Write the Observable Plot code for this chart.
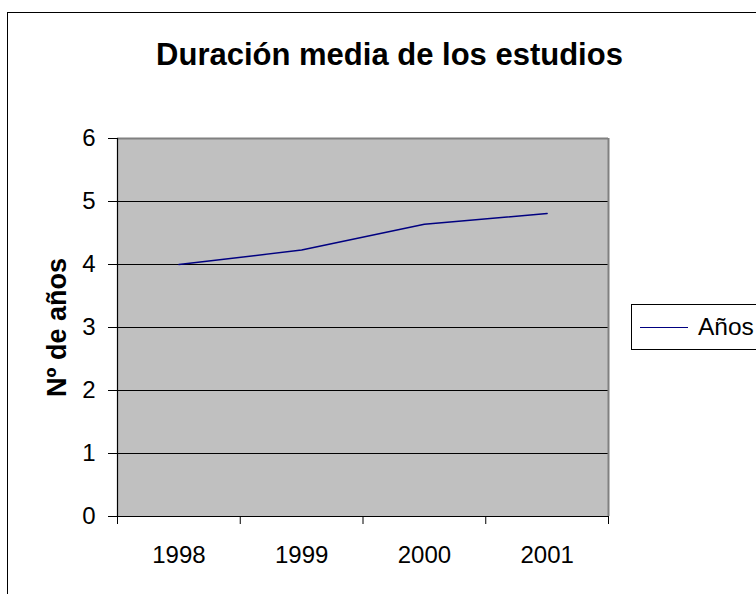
<!DOCTYPE html>
<html>
<head>
<meta charset="utf-8">
<script src="https://cdn.jsdelivr.net/npm/d3@7"></script>
<script src="https://cdn.jsdelivr.net/npm/@observablehq/plot@0.6"></script>
<style>
  html, body { margin: 0; padding: 0; background: #fff; overflow: hidden; }
  body { width: 756px; height: 594px; position: relative; font-family: "Liberation Sans", Arial, sans-serif; }
  #border { position: absolute; left: 7px; top: 12px; width: 800px; height: 700px; border: 1px solid #000; box-sizing: border-box; }
  #title { position: absolute; left: 0; width: 779px; top: 39px; line-height: 31px; text-align: center; font-weight: bold; font-size: 31px; color: #000; white-space: nowrap; }
  #chart { position: absolute; left: 0; top: 0; }
  #legend { position: absolute; left: 631px; top: 304px; width: 150px; height: 46px; border: 1px solid #000; box-sizing: border-box; background: #fff; display: flex; align-items: center; }
  #legend .sw { width: 48px; height: 0; border-top: 1.5px solid #000080; margin-left: 8px; margin-right: 10px; }
  #legend .lab { font-size: 24.5px; color: #000; }
</style>
</head>
<body>
<div id="border"></div>
<div id="title">Duración media de los estudios</div>
<div id="chart"></div>
<div id="legend"><div class="sw"></div><div class="lab" id="legLab"></div></div>
<script>
const years = ["1998", "1999", "2000", "2001"];
const values = [4.0, 4.23, 4.64, 4.81];
const yTicks = [0, 1, 2, 3, 4, 5, 6];
const gridValues = [1, 2, 3, 4, 5];
const seriesName = "Años";
const yLabel = "Nº de años";

const data = years.map((yr, i) => ({pos: i + 0.5, year: yr, value: values[i]}));
const boundaries = d3.range(years.length + 1);

const chart = Plot.plot({
  width: 756,
  height: 594,
  marginLeft: 117,
  marginRight: 148,
  marginTop: 138,
  marginBottom: 78,
  style: {fontFamily: "Liberation Sans, Arial, sans-serif", fontSize: "24px", color: "#000", background: "transparent", overflow: "visible"},
  x: {domain: [0, years.length]},
  y: {domain: [0, 6]},
  marks: [
    Plot.frame({fill: "#c0c0c0", stroke: null}),
    Plot.ruleY(gridValues, {stroke: "#000", strokeWidth: 1.2}),
    Plot.ruleY([6], {stroke: "#808080", strokeWidth: 2}),
    Plot.ruleX([years.length], {stroke: "#808080", strokeWidth: 2}),
    Plot.ruleX([0], {stroke: "#000", strokeWidth: 1.2}),
    Plot.ruleY([0], {stroke: "#000", strokeWidth: 1.2}),
    Plot.axisY({ticks: yTicks, tickSize: 9, tickPadding: 13, tickFormat: d3.format("d"), label: null, fontSize: 24, stroke: "#000"}),
    Plot.axisX({ticks: boundaries, tickSize: 8, tickFormat: () => "", label: null, stroke: "#000"}),
    Plot.axisX({ticks: data.map(d => d.pos), tickSize: 0, tickPadding: 29, tickFormat: d => years[Math.round(d - 0.5)], label: null, fontSize: 24}),
    Plot.text([3], {y: d => d, text: () => yLabel, frameAnchor: "left", textAnchor: "middle", dx: -60, rotate: -90, fontWeight: "bold", fontSize: 27, fill: "#000"}),
    Plot.line(data, {x: "pos", y: "value", stroke: "#000080", strokeWidth: 1.5})
  ]
});
document.getElementById("chart").appendChild(chart);
document.getElementById("legLab").textContent = seriesName;
</script>
</body>
</html>
